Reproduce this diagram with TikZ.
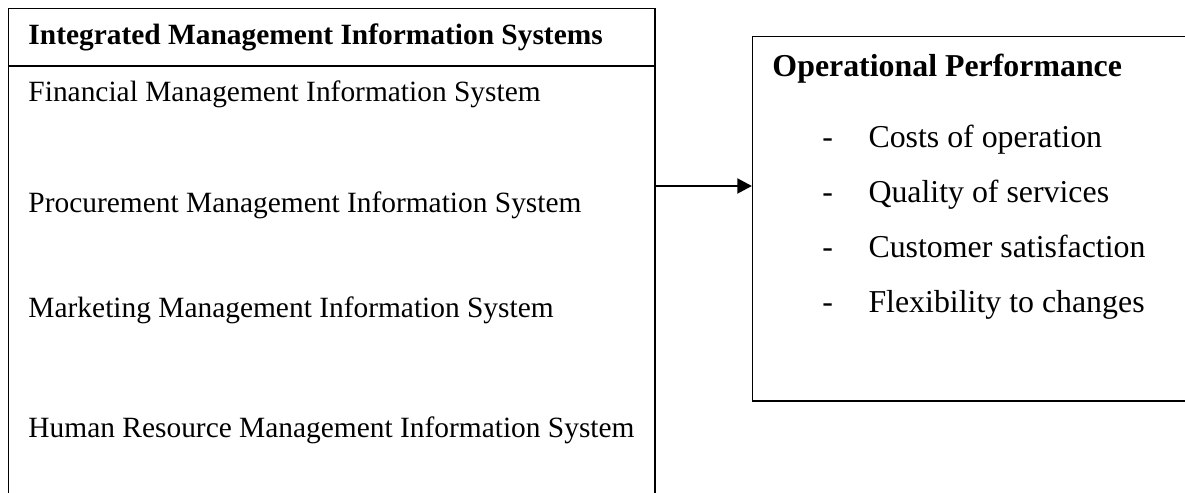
\documentclass[tikz,border=0pt]{standalone}
\usepackage{fontspec}
\setmainfont{Liberation Serif}
\usetikzlibrary{arrows.meta}
\tikzset{
	frame/.style={draw,line width=0.6pt,anchor=north west,inner sep=0pt},
	txt/.style={anchor=base west,inner sep=0pt,font=\fontsize{12}{14}\selectfont},
	big/.style={anchor=base west,inner sep=0pt,font=\fontsize{13}{16}\selectfont},
	flow/.style={line width=1.2pt,-{Triangle[length=6pt,width=6pt]}}
}

\begin{document}
\begin{tikzpicture}[x=0.408pt,y=-0.408pt]
	\useasboundingbox (0,0) rectangle (1185,493);
	\clip (0,0) rectangle (1185,493);

	\node [frame,minimum width=263.6pt,minimum height=220pt] (sys) at (8,8) {};
	\coordinate (cut) at (0,66);
	\draw [line width=0.6pt] (sys.west |- cut) -- (sys.east |- cut);
	\node [txt,font=\bfseries\fontsize{12}{14}\selectfont] (head) at (28,45) {Integrated Management Information Systems};
	\node [txt] (fin) at (28,102) {Financial Management Information System};
	\node [txt] (proc) at (28,213) {Procurement Management Information System};
	\node [txt] (mkt) at (28,318) {Marketing Management Information System};
	\node [txt] (hr) at (28,438) {Human Resource Management Information System};

	\node [frame,minimum width=190pt,minimum height=148.7pt] (perf) at (752,36) {};
	\node [big,font=\bfseries\fontsize{13}{16}\selectfont] (ptitle) at (772,77) {Operational Performance};
	\foreach \y/\t/\n in {148/Costs of operation/cost,203/Quality of services/qual,258/Customer satisfaction/cust,313/Flexibility to changes/flex}{
		\node [big] (d\n) at (822,\y) {-};
		\node [big] (\n) at (868,\y) {\t};
	}

	\coordinate (lvl) at (0,186);
	\draw [flow] (sys.east |- lvl) -- (perf.west |- lvl);
\end{tikzpicture}
\end{document}
